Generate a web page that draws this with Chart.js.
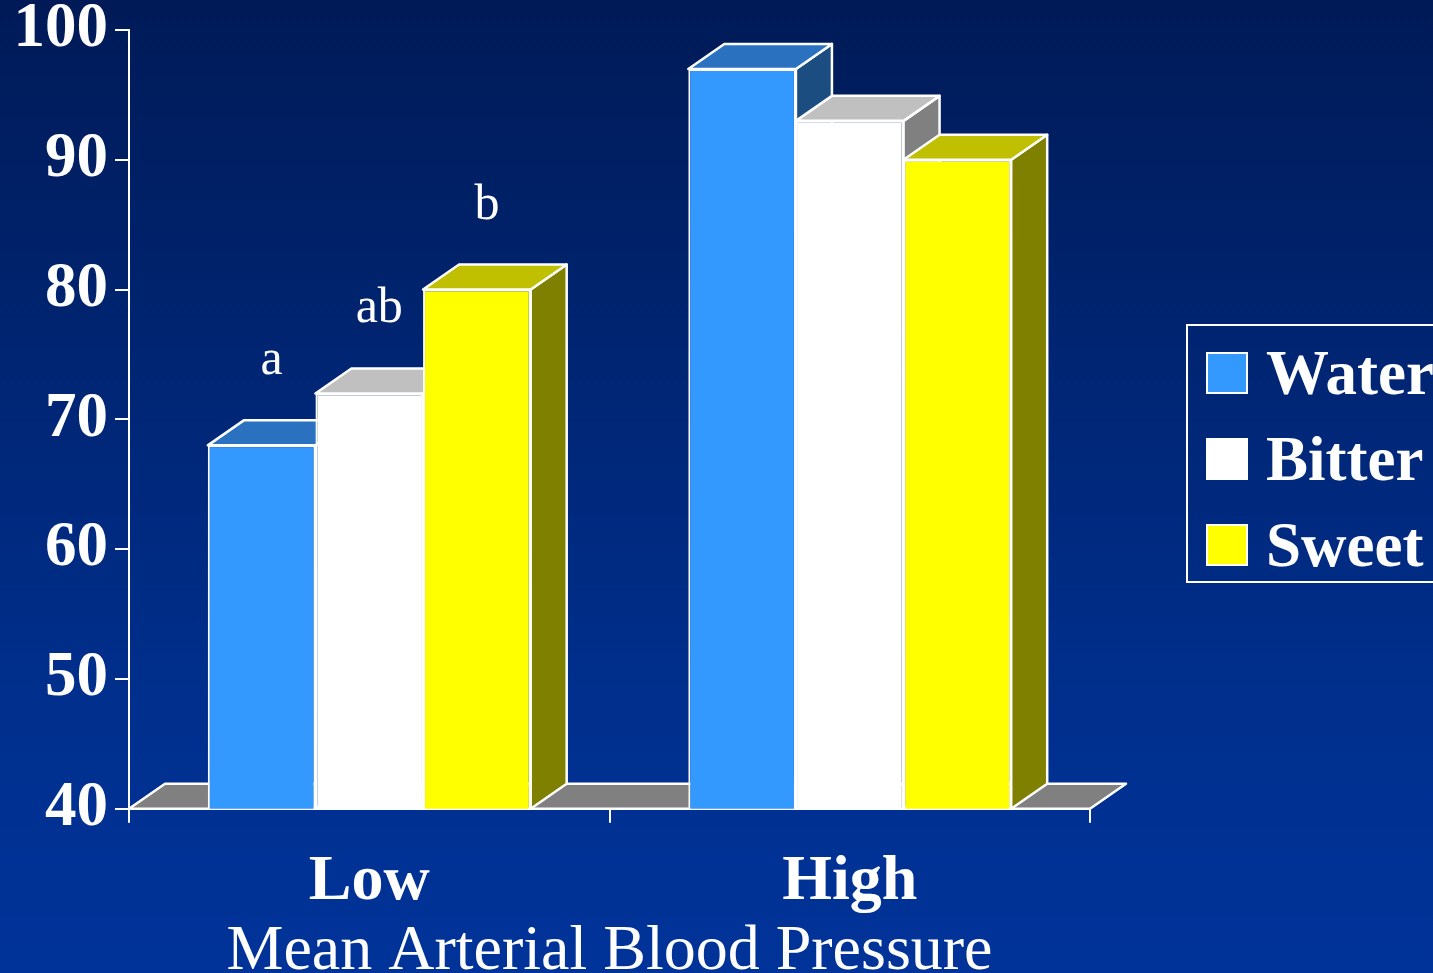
<!DOCTYPE html>
<html>
<head>
<meta charset="utf-8">
<script src="https://cdn.jsdelivr.net/npm/chart.js@4/dist/chart.umd.min.js"></script>
<style>
  html, body { margin: 0; padding: 0; overflow: hidden; background: #002a7a; }
  #wrap { width: 1433px; height: 973px; }
</style>
</head>
<body>
<div id="wrap"><canvas id="c" width="1433" height="973"></canvas></div>
<script>
// Mean arterial blood pressure by condition
const categories = ['Low', 'High'];
const seriesNames = ['Water', 'Bitter', 'Sweet'];
const waterValues = [68, 97];
const bitterValues = [72, 93];
const sweetValues = [80, 90];
// significance letters above the Low group
const waterLetters = ['a', ''];
const bitterLetters = ['ab', ''];
const sweetLetters = ['b', ''];
const yTicks = [40, 50, 60, 70, 80, 90, 100];
const axisTitle = 'Mean Arterial Blood Pressure';

const SERIF = '"Liberation Serif", "Times New Roman", serif';
const DEPTH_X = 36, DEPTH_Y = 25;

// front / top / side shades for each series
const shades = [
  { front: '#3399ff', top: '#2a72c0', side: '#1c4d80' },
  { front: '#ffffff', top: '#c0c0c0', side: '#808080' },
  { front: '#ffff00', top: '#c0c000', side: '#808000' }
];
const letterSets = [waterLetters, bitterLetters, sweetLetters];

function poly(ctx, pts, fill) {
  ctx.beginPath();
  ctx.moveTo(pts[0][0], pts[0][1]);
  for (let i = 1; i < pts.length; i++) ctx.lineTo(pts[i][0], pts[i][1]);
  ctx.closePath();
  ctx.fillStyle = fill;
  ctx.fill();
  ctx.lineJoin = 'round';
  ctx.lineWidth = 2.5;
  ctx.strokeStyle = '#ffffff';
  ctx.stroke();
}

const backdrop = {
  id: 'backdrop',
  beforeDraw(chart) {
    const { ctx, width, height } = chart;
    const g = ctx.createLinearGradient(0, 0, 0, height);
    g.addColorStop(0, '#001a57');
    g.addColorStop(0.27, '#00226b');
    g.addColorStop(0.72, '#002f8d');
    g.addColorStop(1, '#003399');
    ctx.save();
    ctx.fillStyle = g;
    ctx.fillRect(0, 0, width, height);
    ctx.restore();
  }
};

// floor plus the top and side faces of every bar, painted left to right
const depthFaces = {
  id: 'depthFaces',
  beforeDatasetsDraw(chart) {
    const { ctx, chartArea } = chart;
    const yScale = chart.scales.y;
    const base = yScale.getPixelForValue(yScale.min);
    ctx.save();
    poly(ctx, [
      [chartArea.left, base],
      [chartArea.left + DEPTH_X, base - DEPTH_Y],
      [chartArea.right + DEPTH_X, base - DEPTH_Y],
      [chartArea.right, base]
    ], '#808080');
    const n = chart.data.labels.length;
    for (let i = 0; i < n; i++) {
      chart.data.datasets.forEach((ds, d) => {
        const bar = chart.getDatasetMeta(d).data[i];
        const { x, y, width } = bar.getProps(['x', 'y', 'width'], true);
        const l = x - width / 2, r = x + width / 2;
        poly(ctx, [
          [r, y], [r + DEPTH_X, y - DEPTH_Y], [r + DEPTH_X, base - DEPTH_Y], [r, base]
        ], shades[d].side);
        poly(ctx, [
          [l, y], [l + DEPTH_X, y - DEPTH_Y], [r + DEPTH_X, y - DEPTH_Y], [r, y]
        ], shades[d].top);
      });
    }
    ctx.restore();
  },
  afterDatasetsDraw(chart) {
    const { ctx } = chart;
    ctx.save();
    ctx.fillStyle = '#ffffff';
    ctx.font = '50px ' + SERIF;
    ctx.textAlign = 'center';
    ctx.textBaseline = 'alphabetic';
    chart.data.datasets.forEach((ds, d) => {
      chart.getDatasetMeta(d).data.forEach((bar, i) => {
        const txt = letterSets[d][i];
        if (!txt) return;
        const { x, y } = bar.getProps(['x', 'y'], true);
        ctx.fillText(txt, x + 10, y - DEPTH_Y - 46);
      });
    });
    ctx.restore();
  }
};

// framed legend on the right
const boxLegend = {
  id: 'boxLegend',
  afterDraw(chart) {
    const { ctx } = chart;
    ctx.save();
    ctx.strokeStyle = '#ffffff';
    ctx.lineWidth = 2;
    ctx.strokeRect(1187, 325, 270, 257);
    ctx.font = 'bold 63px ' + SERIF;
    ctx.textBaseline = 'alphabetic';
    ctx.textAlign = 'left';
    chart.data.datasets.forEach((ds, d) => {
      const cy = 373 + d * 86;
      ctx.fillStyle = shades[d].front;
      ctx.fillRect(1207, cy - 20, 40, 40);
      ctx.strokeRect(1207, cy - 20, 40, 40);
      ctx.fillStyle = '#ffffff';
      ctx.fillText(ds.label, 1266, cy + 21);
    });
    ctx.restore();
  }
};

const valueSets = [waterValues, bitterValues, sweetValues];

new Chart(document.getElementById('c'), {
  type: 'bar',
  data: {
    labels: categories,
    datasets: seriesNames.map((name, d) => ({
      label: name,
      data: valueSets[d],
      backgroundColor: shades[d].front,
      borderColor: '#ffffff',
      borderWidth: 2,
      borderSkipped: false,
      categoryPercentage: 0.672,
      barPercentage: 1.0
    }))
  },
  options: {
    responsive: false,
    animation: false,
    devicePixelRatio: 1,
    layout: { padding: { left: 6.5, right: 343, top: 0, bottom: 0 } },
    plugins: {
      legend: { display: false },
      tooltip: { enabled: false }
    },
    scales: {
      x: {
        grid: {
          display: true,
          drawOnChartArea: false,
          drawTicks: true,
          tickLength: 14,
          color: '#ffffff',
          lineWidth: 2
        },
        border: { display: true, color: '#ffffff', width: 2 },
        ticks: {
          color: '#ffffff',
          padding: 21,
          font: { family: SERIF, size: 64, weight: 'bold', lineHeight: 1.2 }
        },
        title: {
          display: true,
          text: axisTitle,
          color: '#ffffff',
          font: { family: SERIF, size: 64, weight: 'normal', lineHeight: 0.6 },
          padding: { top: -9, bottom: 2 }
        }
      },
      y: {
        min: yTicks[0],
        max: yTicks[yTicks.length - 1],
        afterBuildTicks(scale) {
          scale.ticks = yTicks.map(v => ({ value: v }));
        },
        grid: {
          display: true,
          drawOnChartArea: false,
          drawTicks: true,
          tickLength: 14,
          color: '#ffffff',
          lineWidth: 2
        },
        border: { display: true, color: '#ffffff', width: 2 },
        ticks: {
          color: '#ffffff',
          padding: 7,
          font: { family: SERIF, size: 63, weight: 'bold', lineHeight: 0.73 }
        }
      }
    }
  },
  plugins: [backdrop, depthFaces, boxLegend]
});
</script>
</body>
</html>
